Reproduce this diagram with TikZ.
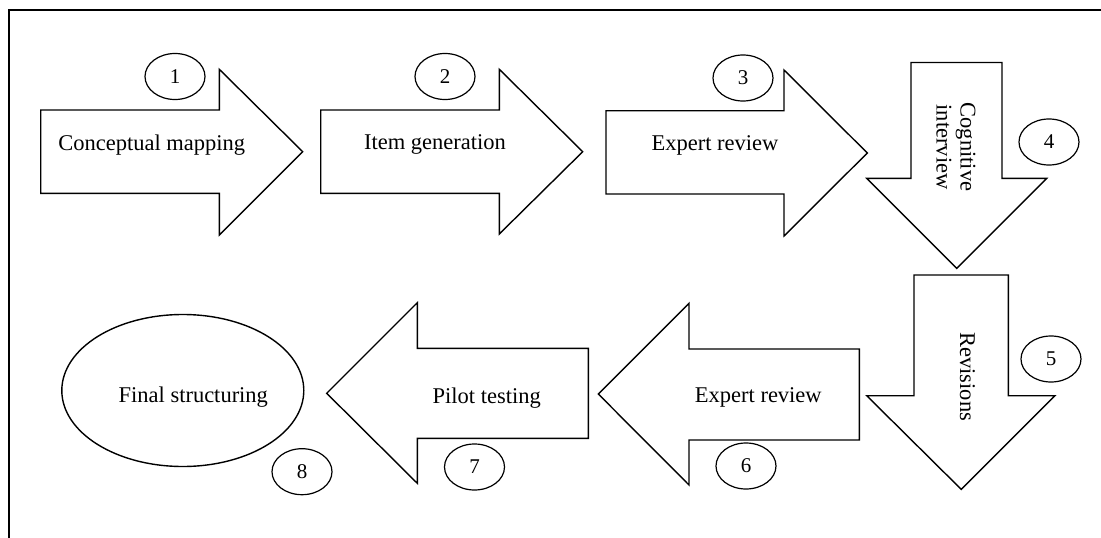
\documentclass[tikz,border=0pt]{standalone}
\usepackage{fontspec}
\setmainfont{Liberation Serif}
\usetikzlibrary{shapes.geometric}
\begin{document}
\begin{tikzpicture}[x=1pt,y=-1pt,
  outline/.style={draw=black,line width=1.4pt,line join=miter},
  steplabel/.style={font=\fontsize{22.5}{24}\selectfont,inner sep=0pt},
  numtag/.style={ellipse,draw=black,line width=1.2pt,minimum width=60pt,minimum height=46pt,inner sep=0pt,font=\fontsize{21}{24}\selectfont}]
\useasboundingbox (0,0) rectangle (1101,538);
% frame
\draw[line width=1.4pt] (9,538) -- (9,10) -- (1101,10);
% top row: right-pointing arrows
\draw[outline] (40.7,110) -- (219.3,110) -- (219.3,69.3) -- (302.7,151.7) -- (219.3,235) -- (219.3,193.3) -- (40.7,193.3) -- cycle;
\draw[outline] (320.7,110) -- (499.3,110) -- (499.3,69.3) -- (582.7,151.7) -- (499.3,234) -- (499.3,193.3) -- (320.7,193.3) -- cycle;
\draw[outline] (606,110.7) -- (784,110.7) -- (784,70) -- (867.3,153) -- (784,236) -- (784,194) -- (606,194) -- cycle;
% right column: down-pointing arrows
\draw[outline] (911,62.5) -- (1002,62.5) -- (1002,178.3) -- (1046.7,178.3) -- (956.7,268.3) -- (866.7,178.3) -- (911,178.3) -- cycle;
\draw[outline] (914,275) -- (1008.3,275) -- (1008.3,395.7) -- (1055,395.7) -- (961.2,489.3) -- (866.7,395.7) -- (914,395.7) -- cycle;
% bottom row: left-pointing arrows
\draw[outline] (859.3,349) -- (689,349) -- (689,303.3) -- (598.3,394) -- (689,485) -- (689,440) -- (859.3,440) -- cycle;
\draw[outline] (588.3,348.3) -- (417.3,348.3) -- (417.3,302.7) -- (326.7,393.3) -- (417.3,483.3) -- (417.3,438.3) -- (588.3,438.3) -- cycle;
% final step
\node[ellipse,draw=black,line width=1.4pt,minimum width=242pt,minimum height=152pt,inner sep=0pt] (fin) at (182.8,390.5) {};
% step texts
\node[steplabel,anchor=base] (t1) at (151.7,150) {Conceptual mapping};
\node[steplabel,anchor=base] (t2) at (435,149.5) {Item generation};
\node[steplabel,anchor=base] (t3) at (715,150) {Expert review};
\node[steplabel,rotate=-90,align=center] (t4) at (956,147) {Cognitive\\interview};
\node[steplabel,rotate=-90] (t5) at (967.5,376.7) {Revisions};
\node[steplabel,anchor=base] (t6) at (758.3,402.7) {Expert review};
\node[steplabel,anchor=base] (t7) at (486.7,403.3) {Pilot testing};
\node[steplabel,anchor=base] (t8) at (193.3,402.7) {Final structuring};
% step numbers
\node[numtag] (n1) at (175,76.5) {1};
\node[numtag] (n2) at (445,76.5) {2};
\node[numtag] (n3) at (743,78) {3};
\node[numtag] (n4) at (1049,142) {4};
\node[numtag] (n5) at (1051,359) {5};
\node[numtag] (n6) at (746,466) {6};
\node[numtag] (n7) at (474.5,467) {7};
\node[numtag] (n8) at (302,471.7) {8};
\end{tikzpicture}
\end{document}
